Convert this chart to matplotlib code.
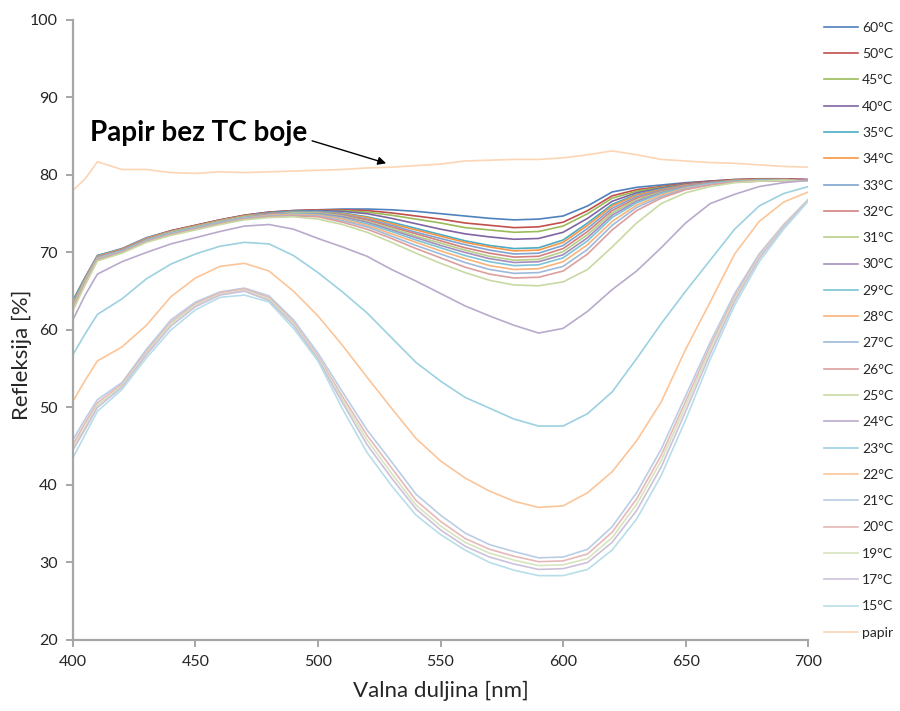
import matplotlib
matplotlib.use("Agg")
import matplotlib.pyplot as plt
import matplotlib.colors as mcolors
import numpy as np

plt.rcParams['font.family'] = ['Lato', 'DejaVu Sans']

wavelength = [400, 405, 410, 420, 430, 440, 450, 460, 470, 480, 490, 500, 510, 520, 530, 540,
              550, 560, 570, 580, 590, 600, 610, 620, 630, 640, 650, 660, 670, 680, 690, 700]

labels = ["60°C", "50°C", "45°C", "40°C", "35°C", "34°C", "33°C", "32°C", "31°C", "30°C", "29°C",
          "28°C", "27°C", "26°C", "25°C", "24°C", "23°C", "22°C", "21°C", "20°C", "19°C", "17°C",
          "15°C", "papir"]

t60 = [63.8, 66.8, 69.6, 70.5, 71.9, 72.8, 73.5, 74.2, 74.8, 75.2, 75.4, 75.5, 75.6, 75.6, 75.5, 75.3,
       75.0, 74.7, 74.4, 74.2, 74.3, 74.7, 76.0, 77.8, 78.4, 78.7, 79.0, 79.2, 79.4, 79.5, 79.5, 79.4]
t50 = [63.6, 66.7, 69.5, 70.4, 71.8, 72.8, 73.5, 74.2, 74.8, 75.2, 75.4, 75.5, 75.5, 75.4, 75.1, 74.7,
       74.3, 73.8, 73.5, 73.2, 73.3, 73.9, 75.4, 77.3, 78.1, 78.5, 78.9, 79.2, 79.4, 79.5, 79.5, 79.4]
t45 = [63.5, 66.6, 69.5, 70.4, 71.8, 72.7, 73.4, 74.1, 74.7, 75.1, 75.3, 75.4, 75.4, 75.2, 74.8, 74.3,
       73.8, 73.2, 72.9, 72.6, 72.7, 73.4, 75.0, 77.0, 77.9, 78.4, 78.8, 79.1, 79.3, 79.4, 79.4, 79.3]
t40 = [63.4, 66.5, 69.4, 70.3, 71.7, 72.7, 73.4, 74.1, 74.7, 75.1, 75.3, 75.4, 75.3, 75.0, 74.4, 73.7,
       73.0, 72.4, 72.0, 71.7, 71.8, 72.6, 74.4, 76.6, 77.7, 78.3, 78.8, 79.1, 79.3, 79.4, 79.4, 79.3]
t35 = [63.8, 66.7, 69.6, 70.4, 71.8, 72.7, 73.4, 74.1, 74.7, 75.1, 75.3, 75.3, 75.1, 74.6, 73.9, 73.1,
       72.3, 71.5, 70.9, 70.5, 70.6, 71.6, 73.8, 76.2, 77.5, 78.2, 78.7, 79.0, 79.3, 79.4, 79.4, 79.3]
t34 = [63.5, 66.6, 69.5, 70.4, 71.8, 72.7, 73.4, 74.1, 74.7, 75.0, 75.2, 75.2, 75.0, 74.5, 73.7, 72.9,
       72.1, 71.3, 70.7, 70.2, 70.3, 71.3, 73.5, 76.0, 77.4, 78.1, 78.7, 79.0, 79.3, 79.4, 79.4, 79.3]
t33 = [63.3, 66.5, 69.4, 70.3, 71.7, 72.6, 73.3, 74.0, 74.6, 75.0, 75.2, 75.2, 74.9, 74.3, 73.5, 72.6,
       71.8, 71.0, 70.3, 69.8, 69.9, 70.9, 73.1, 75.7, 77.2, 78.0, 78.6, 79.0, 79.2, 79.3, 79.4, 79.3]
t32 = [63.2, 66.4, 69.4, 70.3, 71.7, 72.6, 73.3, 74.0, 74.6, 75.0, 75.1, 75.1, 74.8, 74.2, 73.3, 72.4,
       71.5, 70.6, 69.9, 69.4, 69.5, 70.5, 72.7, 75.4, 77.0, 77.9, 78.6, 79.0, 79.2, 79.3, 79.4, 79.3]
t31 = [63.0, 66.3, 69.3, 70.2, 71.6, 72.6, 73.3, 74.0, 74.6, 74.9, 75.1, 75.1, 74.7, 74.0, 73.1, 72.1,
       71.2, 70.3, 69.5, 69.0, 69.1, 70.1, 72.3, 75.1, 76.8, 77.8, 78.5, 78.9, 79.2, 79.3, 79.3, 79.2]
t30 = [62.9, 66.2, 69.3, 70.2, 71.6, 72.5, 73.2, 73.9, 74.5, 74.9, 75.0, 75.0, 74.6, 73.9, 72.9, 71.9,
       70.9, 70.0, 69.2, 68.7, 68.8, 69.7, 71.9, 74.8, 76.6, 77.7, 78.5, 78.9, 79.2, 79.3, 79.3, 79.2]
t29 = [63.2, 66.4, 69.3, 70.2, 71.6, 72.5, 73.2, 73.9, 74.5, 74.8, 75.0, 74.9, 74.4, 73.7, 72.7, 71.6,
       70.6, 69.6, 68.8, 68.3, 68.4, 69.3, 71.5, 74.5, 76.4, 77.6, 78.4, 78.9, 79.2, 79.3, 79.3, 79.2]
t28 = [63.0, 66.3, 69.2, 70.1, 71.5, 72.4, 73.1, 73.8, 74.4, 74.8, 74.9, 74.8, 74.3, 73.5, 72.4, 71.3,
       70.2, 69.2, 68.3, 67.8, 67.9, 68.8, 71.0, 74.0, 76.1, 77.4, 78.3, 78.8, 79.1, 79.2, 79.3, 79.2]
t27 = [62.8, 66.1, 69.1, 70.1, 71.5, 72.4, 73.1, 73.8, 74.4, 74.7, 74.8, 74.7, 74.1, 73.3, 72.1, 70.9,
       69.8, 68.7, 67.8, 67.3, 67.4, 68.2, 70.4, 73.5, 75.8, 77.2, 78.2, 78.8, 79.1, 79.2, 79.3, 79.2]
t26 = [62.7, 66.0, 69.0, 70.0, 71.4, 72.3, 73.0, 73.7, 74.3, 74.6, 74.7, 74.6, 73.9, 73.0, 71.8, 70.5,
       69.3, 68.1, 67.2, 66.7, 66.8, 67.6, 69.8, 72.9, 75.4, 77.0, 78.1, 78.7, 79.1, 79.2, 79.3, 79.2]
t25 = [62.5, 65.8, 68.9, 69.9, 71.3, 72.2, 72.9, 73.6, 74.2, 74.5, 74.6, 74.3, 73.6, 72.6, 71.3, 69.9,
       68.6, 67.4, 66.4, 65.8, 65.7, 66.2, 67.8, 70.7, 73.8, 76.3, 77.7, 78.5, 79.0, 79.2, 79.3, 79.2]
t24 = [61.3, 64.5, 67.2, 68.8, 70.0, 71.1, 71.9, 72.7, 73.4, 73.6, 73.0, 71.8, 70.7, 69.5, 67.8, 66.3,
       64.7, 63.1, 61.8, 60.6, 59.6, 60.2, 62.4, 65.2, 67.6, 70.6, 73.8, 76.3, 77.5, 78.5, 79.0, 79.3]
t23 = [56.8, 59.5, 62.0, 64.0, 66.6, 68.5, 69.8, 70.8, 71.3, 71.1, 69.6, 67.4, 64.9, 62.2, 59.0, 55.8,
       53.4, 51.3, 49.9, 48.5, 47.6, 47.6, 49.2, 52.0, 56.3, 60.8, 65.0, 69.0, 73.0, 76.0, 77.6, 78.5]
t22 = [50.8, 53.5, 56.0, 57.8, 60.6, 64.3, 66.7, 68.2, 68.6, 67.6, 65.0, 61.8, 58.0, 53.9, 49.9, 46.0,
       43.1, 40.9, 39.2, 37.9, 37.1, 37.3, 39.0, 41.7, 45.7, 50.7, 57.5, 63.6, 69.8, 74.0, 76.5, 77.8]
t21 = [45.8, 48.5, 51.0, 53.2, 57.5, 61.3, 63.6, 64.9, 65.4, 64.4, 61.3, 57.0, 52.0, 47.1, 43.0, 38.8,
       36.1, 33.8, 32.3, 31.4, 30.6, 30.7, 31.7, 34.6, 39.0, 44.6, 51.5, 58.4, 64.7, 69.8, 73.6, 76.8]
t20 = [45.2, 48.0, 50.6, 53.0, 57.2, 61.0, 63.4, 64.8, 65.3, 64.2, 61.0, 56.6, 51.4, 46.4, 42.2, 38.0,
       35.3, 33.1, 31.7, 30.8, 30.1, 30.2, 31.1, 33.9, 38.2, 43.8, 50.8, 57.9, 64.3, 69.6, 73.5, 76.8]
t19 = [44.8, 47.5, 50.3, 52.8, 57.0, 60.8, 63.2, 64.6, 65.1, 64.0, 60.8, 56.4, 51.0, 45.8, 41.5, 37.4,
       34.7, 32.6, 31.2, 30.3, 29.6, 29.7, 30.5, 33.2, 37.5, 43.1, 50.2, 57.4, 64.0, 69.4, 73.4, 76.7]
t17 = [44.5, 47.2, 50.0, 52.6, 56.8, 60.5, 63.0, 64.5, 65.0, 63.8, 60.6, 56.2, 50.6, 45.2, 40.9, 36.9,
       34.2, 32.1, 30.7, 29.8, 29.1, 29.2, 30.0, 32.6, 36.7, 42.3, 49.5, 56.9, 63.7, 69.2, 73.3, 76.7]
t15 = [43.5, 46.5, 49.5, 52.3, 56.4, 60.0, 62.6, 64.2, 64.5, 63.6, 60.2, 56.0, 49.8, 44.2, 39.9, 36.1,
       33.6, 31.6, 30.0, 29.0, 28.3, 28.3, 29.1, 31.6, 35.6, 41.2, 48.4, 56.2, 63.2, 68.8, 73.0, 76.6]
papir = [78.0, 79.5, 81.7, 80.7, 80.7, 80.3, 80.2, 80.4, 80.3, 80.4, 80.5, 80.6, 80.7, 80.9, 81.0, 81.2,
         81.4, 81.8, 81.9, 82.0, 82.0, 82.2, 82.6, 83.1, 82.6, 82.0, 81.8, 81.6, 81.5, 81.3, 81.1, 81.0]

series = [t60, t50, t45, t40, t35, t34, t33, t32, t31, t30, t29, t28, t27, t26, t25,
          t24, t23, t22, t21, t20, t19, t17, t15, papir]

base = ["#4F81BD", "#C0504D", "#9BBB59", "#8064A2", "#4BACC6", "#F79646"]
tints = [0.0, 0.28, 0.45, 0.6]


def tint(c, f):
    r = np.array(mcolors.to_rgb(c))
    return tuple(r + (1 - r) * f)


colors = [tint(base[i % 6], tints[i // 6]) for i in range(len(series))]

fig = plt.figure(figsize=(9, 7.11), dpi=100)
ax = fig.add_axes([0.081, 0.0999, 0.817, 0.8721])

for vals, lab, col in zip(series, labels, colors):
    ax.plot(wavelength, vals, color=col, lw=1.2, label=lab)

ax.set_xlim(400, 700)
ax.set_ylim(20, 100)
ax.set_xticks(range(400, 701, 50))
ax.set_yticks(range(20, 101, 10))
for s in ["top", "right"]:
    ax.spines[s].set_visible(False)
for s in ["left", "bottom"]:
    ax.spines[s].set_color("#A6A6A6")
    ax.spines[s].set_linewidth(1.6)
ax.tick_params(direction="out", length=5, width=1.4, color="#A6A6A6",
               labelsize=11.5, labelcolor="#262626", pad=6)

ax.set_xlabel("Valna duljina [nm]", fontsize=16, color="#262626", labelpad=8)
ax.set_ylabel("Refleksija [%]", fontsize=16, color="#262626")
ax.yaxis.set_label_coords(-0.056, 0.46)

ax.text(406.9, 85.4, "Papir bez TC boje", fontsize=20, fontweight="bold",
        ha="left", va="center", color="black")
ax.annotate("", xy=(527.8, 81.5), xytext=(497.6, 84.4),
            arrowprops=dict(arrowstyle="-|>", color="black", lw=1.0,
                            mutation_scale=12, shrinkA=0, shrinkB=0))

leg = fig.legend(loc="upper left", bbox_to_anchor=(0.9156, 0.9695), frameon=False,
                 fontsize=10, handlelength=2.45, handletextpad=0.3, labelspacing=1.03,
                 borderpad=0, borderaxespad=0)
for t in leg.get_texts():
    t.set_color("#262626")

fig.savefig("out.png", dpi=100)
